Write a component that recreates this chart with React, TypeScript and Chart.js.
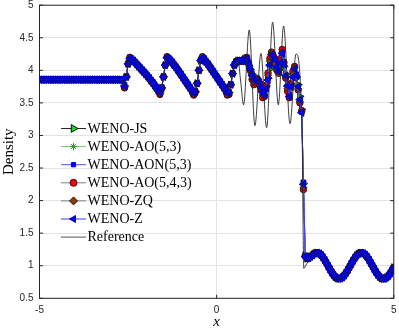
import React, { useEffect, useRef } from 'react';
import { Chart, registerables } from 'chart.js';
import { drawPoint } from 'chart.js/helpers';

Chart.register(...registerables);

// ---- axes ----
const X_MIN = -5;
const X_MAX = 5;
const DX = 0.05;
const Y_MIN = 0.5;
const Y_MAX = 5;
const xTickValues = [-5, 0, 5];
const yTickValues = [0.5, 1, 1.5, 2, 2.5, 3, 3.5, 4, 4.5, 5];

// ---- WENO-Z solution on the uniform grid x = -5 : 0.05 : 5 ----
const wenoZ = [
  3.857, 3.857, 3.857, 3.857, 3.857, 3.857, 3.857, 3.857, 3.857, 3.857,
  3.857, 3.857, 3.857, 3.857, 3.857, 3.857, 3.857, 3.857, 3.857, 3.857,
  3.857, 3.857, 3.857, 3.857, 3.857, 3.857, 3.857, 3.857, 3.857, 3.857,
  3.857, 3.857, 3.857, 3.857, 3.857, 3.857, 3.857, 3.857, 3.857, 3.857,
  3.857, 3.857, 3.857, 3.857, 3.857, 3.857, 3.857,
  3.85, 3.76, 3.90, 4.10, 4.18, 4.17, 4.15, 4.12, 4.09, 4.06, 4.03, 4.00, 3.97, 3.94, 3.91,
  3.88, 3.84, 3.81, 3.77, 3.73, 3.69, 3.66,
  3.73, 3.90, 4.08, 4.19, 4.18, 4.15, 4.12, 4.08, 4.05, 4.01, 3.97, 3.93, 3.89, 3.85, 3.81,
  3.77, 3.73, 3.69, 3.65, 3.67, 3.80, 4.00, 4.15, 4.19,
  4.17, 4.13, 4.10, 4.06, 4.02, 3.98, 3.94, 3.90, 3.86, 3.82, 3.78, 3.74, 3.70, 3.65, 3.66,
  3.78, 3.95, 4.08, 4.13, 4.15, 4.15, 4.14, 4.15,
  4.17, 4.17, 4.10, 4.02, 3.93, 3.86, 3.84, 3.86, 3.82, 3.74, 3.66, 3.62, 3.72, 3.85, 4.08,
  4.24, 4.22, 4.16, 4.05, 3.98, 4.12, 4.26, 4.10, 3.92, 3.76, 3.60, 3.75, 3.90, 4.02, 3.92,
  3.75, 3.55, 3.35, 2.25, 1.14,
  1.11, 1.12, 1.14, 1.16, 1.185, 1.198,
  1.199, 1.187, 1.164, 1.130, 1.088, 1.041, 0.992, 0.942, 0.897, 0.858, 0.827, 0.807, 0.800,
  0.805, 0.822, 0.850, 0.887, 0.931, 0.980, 1.030, 1.078, 1.121, 1.157, 1.183, 1.197, 1.199,
  1.189, 1.167, 1.134, 1.092, 1.045, 0.996, 0.946, 0.900, 0.861, 0.829, 0.808, 0.800, 0.804,
  0.820, 0.847, 0.883, 0.927, 0.974,
];

// ---- other schemes, where they differ (x = 0.80 : 0.05 : 2.50) ----
const REGION_START = 0.8;
const wenoJSRegion = [4.15, 4.14, 4.08, 4.01, 3.94, 3.89, 3.87, 3.86, 3.82, 3.77, 3.72, 3.70, 3.76, 3.88, 4.02, 4.14, 4.16, 4.10, 4.04, 4.00, 4.08, 4.16, 4.06, 3.94, 3.80, 3.70, 3.78, 3.88, 3.96, 3.90, 3.78, 3.60, 3.40, 2.26, 1.16];
const wenoAO53Region = [4.16, 4.15, 4.08, 4.00, 3.92, 3.88, 3.86, 3.86, 3.82, 3.76, 3.70, 3.68, 3.76, 3.94, 4.06, 4.18, 4.18, 4.12, 4.04, 4.00, 4.10, 4.20, 4.06, 3.92, 3.78, 3.66, 3.79, 3.90, 3.98, 3.90, 3.76, 3.56, 3.38, 2.26, 1.16];
const wenoAONRegion = [4.17, 4.16, 4.09, 4.01, 3.92, 3.87, 3.85, 3.85, 3.80, 3.72, 3.65, 3.64, 3.73, 3.88, 4.10, 4.22, 4.20, 4.14, 4.04, 4.00, 4.14, 4.24, 4.08, 3.90, 3.74, 3.62, 3.76, 3.92, 4.00, 3.90, 3.73, 3.54, 3.36, 2.28, 1.16];
const wenoAO543Region = [4.19, 4.20, 4.12, 4.00, 3.86, 3.78, 3.82, 3.86, 3.80, 3.70, 3.58, 3.60, 3.76, 3.96, 4.18, 4.28, 4.22, 4.12, 4.00, 3.96, 4.18, 4.32, 4.12, 3.88, 3.68, 3.58, 3.80, 3.98, 4.06, 3.90, 3.70, 3.50, 3.38, 2.17, 1.15];
const wenoZQRegion = [4.18, 4.18, 4.11, 4.01, 3.90, 3.82, 3.84, 3.88, 3.83, 3.73, 3.62, 3.63, 3.74, 3.92, 4.14, 4.25, 4.20, 4.10, 4.02, 3.95, 4.15, 4.28, 4.08, 3.90, 3.72, 3.62, 3.78, 3.94, 4.04, 3.88, 3.72, 3.52, 3.36, 2.20, 1.15];
// sharper corners of the sawtooth waves
const wenoAO543Corners: [number, number][] = [[-2.6, 3.73], [-2.45, 4.2], [-1.6, 3.63], [-1.4, 4.21], [-0.65, 3.62], [-0.4, 4.21], [0.3, 3.62], [0.35, 3.63]];
const wenoZQCorners: [number, number][] = [[-2.6, 3.74], [-2.45, 4.19], [-1.6, 3.64], [-1.4, 4.2], [-0.65, 3.63], [-0.4, 4.2], [0.3, 3.63]];

// ---- reference solution ----
const refX = [-5, -2.68, -2.62, -2.56, -2.5, -2.45, -2.4, -2.0, -1.62, -1.57, -1.5, -1.45, -1.41, -1.35, -1.0, -0.64, -0.58, -0.5, -0.45, -0.41, -0.35, 0.0, 0.31, 0.36, 0.45, 0.52, 0.6, 0.68, 0.76, 0.92, 1.08, 1.25, 1.41, 1.58, 1.74, 1.89, 2.07, 2.24, 2.41, 2.46, 2.5, 2.6, 2.7, 2.8, 2.9, 3.0, 3.1, 3.2, 3.3, 3.4, 3.5, 3.6, 3.7, 3.8, 3.9, 4.0, 4.1, 4.2, 4.3, 4.4, 4.5, 4.6, 4.7, 4.8, 4.9, 5.0];
const refY = [3.857, 3.857, 3.77, 3.88, 4.08, 4.17, 4.17, 3.94, 3.65, 3.70, 3.90, 4.09, 4.19, 4.18, 3.93, 3.64, 3.72, 3.99, 4.14, 4.19, 4.17, 3.90, 3.64, 3.67, 3.95, 4.11, 4.16, 3.82, 3.47, 4.62, 3.15, 4.26, 3.12, 4.74, 3.47, 4.68, 3.18, 4.25, 3.10, 0.96, 0.99, 1.084, 1.161, 1.198, 1.187, 1.130, 1.041, 0.942, 0.858, 0.807, 0.805, 0.850, 0.931, 1.030, 1.121, 1.183, 1.199, 1.167, 1.092, 0.996, 0.900, 0.829, 0.800, 0.820, 0.883, 0.974];

const labels = ['WENO-JS', 'WENO-AO(5,3)', 'WENO-AON(5,3)', 'WENO-AO(5,4,3)', 'WENO-ZQ', 'WENO-Z', 'Reference'];

const grid = wenoZ.map((_, i) => Math.round((X_MIN + i * DX) * 100) / 100);

function buildSeries(region?: number[], corners?: [number, number][]) {
  return grid.map((x, i) => {
    let y = wenoZ[i];
    const k = Math.round((x - REGION_START) / DX);
    if (region && k >= 0 && k < region.length) y = region[k];
    if (corners) {
      const c = corners.find((p) => Math.abs(p[0] - x) < 1e-6);
      if (c) y = c[1];
    }
    return { x, y };
  });
}

const AXIS_COLOR = '#262626';
const GRID_COLOR = '#e3e3e3';

const frame = {
  id: 'matlabFrame',
  beforeDatasetsDraw(chart: any) {
    const { ctx, chartArea: a, scales } = chart;
    ctx.save();
    ctx.strokeStyle = AXIS_COLOR;
    ctx.lineWidth = 1;
    const L = 3.5;
    ctx.beginPath();
    for (const v of yTickValues) {
      const y = scales.y.getPixelForValue(v);
      ctx.moveTo(a.left, y); ctx.lineTo(a.left + L, y);
      ctx.moveTo(a.right, y); ctx.lineTo(a.right - L, y);
    }
    for (const v of xTickValues) {
      const x = scales.x.getPixelForValue(v);
      ctx.moveTo(x, a.bottom); ctx.lineTo(x, a.bottom - L);
      ctx.moveTo(x, a.top); ctx.lineTo(x, a.top + L);
    }
    ctx.stroke();
    ctx.strokeRect(a.left, a.top, a.right - a.left, a.bottom - a.top);
    ctx.restore();
  },
  afterDraw(chart: any) {
    const { ctx, chartArea: a } = chart;
    ctx.save();
    // axis titles
    ctx.fillStyle = '#000';
    ctx.font = 'italic 15px "Liberation Serif"';
    ctx.textAlign = 'center';
    ctx.textBaseline = 'middle';
    ctx.fillText('x', (a.left + a.right) / 2, 322);
    ctx.save();
    ctx.translate(9, (a.top + a.bottom) / 2);
    ctx.rotate(-Math.PI / 2);
    ctx.font = '15px "Liberation Serif"';
    ctx.fillText('Density', 0, 0);
    ctx.restore();

    // legend
    const ds = chart.data.datasets;
    ds.forEach((d: any, k: number) => {
      const y = 128.5 + k * 18.1;
      ctx.strokeStyle = d.legendLine || d.borderColor;
      ctx.lineWidth = 1;
      ctx.beginPath();
      ctx.moveTo(61, y);
      ctx.lineTo(86, y);
      ctx.stroke();
      if (d.pointRadius > 0) {
        ctx.fillStyle = d.pointBackgroundColor;
        ctx.strokeStyle = d.pointBorderColor;
        ctx.lineWidth = d.pointBorderWidth;
        drawPoint(ctx, { pointStyle: d.pointStyle, rotation: d.pointRotation || 0, radius: d.legendRadius || d.pointRadius, borderWidth: d.pointBorderWidth }, 73.5, y);
      }
      ctx.fillStyle = '#000';
      ctx.font = '14px "Liberation Serif"';
      ctx.textAlign = 'left';
      ctx.textBaseline = 'middle';
      ctx.fillText(d.label, 87.5, y + 0.5);
    });
    ctx.restore();
  },
};

export default function App() {
  const canvasRef = useRef<HTMLCanvasElement>(null);

  useEffect(() => {
    document.body.style.margin = '0';
    const canvas = canvasRef.current!;
    const common = { showLine: true, borderWidth: 1, tension: 0, fill: false };
    const chart = new Chart(canvas, {
      type: 'line',
      data: {
        datasets: [
          { ...common, order: 7, label: labels[0], data: buildSeries(wenoJSRegion), borderColor: '#262626', pointStyle: 'triangle', pointRotation: 90, pointRadius: 4.2, pointBackgroundColor: '#1ed41e', pointBorderColor: '#111111', pointBorderWidth: 1, legendRadius: 4.5 } as any,
          { ...common, order: 6, label: labels[1], data: buildSeries(wenoAO53Region), borderColor: '#72c472', pointStyle: 'star', pointRadius: 3.5, pointBackgroundColor: '#1f9e1f', pointBorderColor: '#1f9e1f', pointBorderWidth: 1 } as any,
          { ...common, order: 5, label: labels[2], data: buildSeries(wenoAONRegion), borderColor: '#5050ff', pointStyle: 'rect', pointRadius: 3.3, pointBackgroundColor: '#0000ff', pointBorderColor: '#0000dd', pointBorderWidth: 1, legendRadius: 3 } as any,
          { ...common, order: 4, label: labels[3], data: buildSeries(wenoAO543Region, wenoAO543Corners), borderColor: '#7f7f7f', pointStyle: 'circle', pointRadius: 3.2, pointBackgroundColor: '#ff0000', pointBorderColor: '#3a0a0a', pointBorderWidth: 1, legendRadius: 3.5 } as any,
          { ...common, order: 3, label: labels[4], data: buildSeries(wenoZQRegion, wenoZQCorners), borderColor: '#7f7f7f', pointStyle: 'rectRot', pointRadius: 3.4, pointBackgroundColor: '#8b3a10', pointBorderColor: '#2a1206', pointBorderWidth: 1, legendRadius: 4 } as any,
          { ...common, order: 2, label: labels[5], data: buildSeries(), borderColor: '#3a3aff', pointStyle: 'triangle', pointRotation: -90, pointRadius: 4.2, pointBackgroundColor: '#0000ff', pointBorderColor: '#0000c0', pointBorderWidth: 1, legendRadius: 4 } as any,
          { order: 1, label: labels[6], data: refX.map((x, i) => ({ x, y: refY[i] })), showLine: true, borderColor: '#262626', borderWidth: 0.9, pointRadius: 0, fill: false, cubicInterpolationMode: 'monotone', legendLine: '#555555' } as any,
        ],
      },
      options: {
        responsive: false,
        devicePixelRatio: 1,
        animation: false,
        events: [],
        layout: { padding: { top: 4.5, right: 4.7, left: 0, bottom: 0 } },
        plugins: { legend: { display: false }, tooltip: { enabled: false } },
        scales: {
          x: {
            type: 'linear',
            min: X_MIN,
            max: X_MAX,
            afterBuildTicks: (s: any) => { s.ticks = xTickValues.map((v) => ({ value: v })); },
            afterFit: (s: any) => { s.height = 31.7; s.paddingLeft = 0; s.paddingRight = 0; },
            ticks: { padding: 6, color: AXIS_COLOR, font: { family: '"Liberation Sans"', size: 10 }, maxRotation: 0, callback: (v: any) => String(v) },
            grid: { color: GRID_COLOR, drawTicks: false, lineWidth: 1 },
            border: { display: false },
          },
          y: {
            type: 'linear',
            min: Y_MIN,
            max: Y_MAX,
            afterBuildTicks: (s: any) => { s.ticks = yTickValues.map((v) => ({ value: v })); },
            afterFit: (s: any) => { s.width = 39.5; s.paddingTop = 0; s.paddingBottom = 0; },
            ticks: { padding: 6, color: AXIS_COLOR, font: { family: '"Liberation Sans"', size: 10 }, callback: (v: any) => String(v) },
            grid: { color: GRID_COLOR, drawTicks: false, lineWidth: 1 },
            border: { display: false },
          },
        },
      },
      plugins: [frame],
    });
    return () => chart.destroy();
  }, []);

  return (
    <div style={{ width: 399, height: 330 }}>
      <canvas ref={canvasRef} width={399} height={330} style={{ display: 'block' }} />
    </div>
  );
}
